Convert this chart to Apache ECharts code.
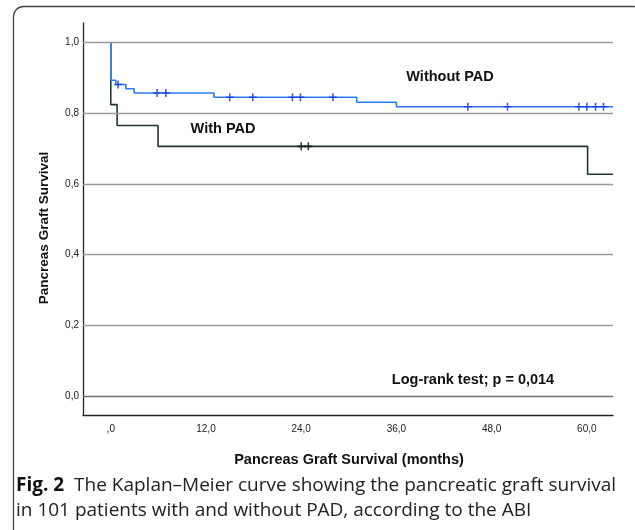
<!DOCTYPE html>
<html>
<head>
<meta charset="utf-8">
<script src="https://cdn.jsdelivr.net/npm/echarts@6/dist/echarts.min.js"></script>
<style>
html,body{margin:0;padding:0;background:#fff;}
#c{width:635px;height:530px;}
</style>
</head>
<body>
<div id="c"></div>
<script>
// ---- data ----
// Without PAD (blue) Kaplan-Meier steps
const noPadTimes = [0, 0, 0.63, 1.9, 2.94, 13.0, 31.0, 36.0, 63.3];
const noPadSurv  = [1.0, 0.893, 0.881, 0.869, 0.857, 0.845, 0.831, 0.818, 0.818];
const noPadCensorTimes = [0.92, 5.84, 6.94, 15.0, 17.9, 22.9, 23.9, 28.0, 45.0, 50.0, 59.0, 60.0, 61.1, 62.1];
const noPadCensorSurv  = [0.881, 0.857, 0.857, 0.845, 0.845, 0.845, 0.845, 0.845, 0.818, 0.818, 0.818, 0.818, 0.818, 0.818];
// With PAD (dark) Kaplan-Meier steps
const padTimes = [0, 0, 0.8, 5.96, 60.1, 63.3];
const padSurv  = [1.0, 0.824, 0.765, 0.706, 0.627, 0.627];
const padCensorTimes = [24.0, 24.9];
const padCensorSurv  = [0.706, 0.706];
// axis ticks
const xTickValues = [0, 12, 24, 36, 48, 60];
const xTickLabels = [',0', '12,0', '24,0', '36,0', '48,0', '60,0'];
const yTickValues = [0, 0.2, 0.4, 0.6, 0.8, 1.0];
const yTickLabels = ['0,0', '0,2', '0,4', '0,6', '0,8', '1,0'];

const zip = (a, b) => a.map((v, i) => [v, b[i]]);
const FONT = 'Liberation Sans, Arial, sans-serif';
const plus = 'path://M-0.2,-1H0.2V1H-0.2Z M-1,-0.2H1V0.2H-1Z';

const chart = echarts.init(document.getElementById('c'), null, {renderer: 'canvas'});
chart.setOption({
  animation: false,
  backgroundColor: '#ffffff',
  grid: {left: 83, right: 22, top: 23, bottom: 115, containLabel: false},
  xAxis: {
    type: 'value', min: -3.5, max: 63.3,
    axisLine: {show: true, onZero: false, lineStyle: {color: '#222', width: 1.3}},
    axisTick: {show: false},
    splitLine: {show: false},
    axisLabel: {
      customValues: xTickValues,
      formatter: v => xTickLabels[xTickValues.indexOf(v)] ?? '',
      color: '#222', fontFamily: FONT, fontSize: 10, margin: 9
    }
  },
  yAxis: {
    type: 'value', min: -0.054, max: 1.055,
    axisLine: {show: true, onZero: false, lineStyle: {color: '#222', width: 1.3}},
    axisTick: {show: false},
    splitLine: {show: false},
    axisLabel: {
      customValues: yTickValues,
      formatter: v => { const i = yTickValues.findIndex(t => Math.abs(t - v) < 1e-6); return i >= 0 ? yTickLabels[i] : ''; },
      color: '#222', fontFamily: FONT, fontSize: 10, margin: 4
    }
  },
  series: [
    {
      type: 'line', silent: true, symbol: 'none', data: [],
      markLine: {
        silent: true, symbol: 'none', label: {show: false},
        lineStyle: {color: '#9a9a9a', width: 1.3, type: 'solid'},
        data: yTickValues.map(v => ({yAxis: v, lineStyle: v === 0 ? {color: '#6f6f6f'} : undefined}))
      }
    },
    {
      name: 'Without PAD', type: 'line', step: 'end', symbol: 'none',
      data: zip(noPadTimes, noPadSurv),
      lineStyle: {color: '#2a7cf5', width: 1.6}, z: 3
    },
    {
      name: 'With PAD', type: 'line', step: 'end', symbol: 'none',
      data: zip(padTimes, padSurv),
      lineStyle: {color: '#1f3533', width: 1.6}, z: 2
    },
    {
      type: 'scatter', symbol: plus, symbolSize: 8,
      data: zip(noPadCensorTimes, noPadCensorSurv),
      itemStyle: {color: '#1838d8'}, z: 4
    },
    {
      type: 'scatter', symbol: plus, symbolSize: 8,
      data: zip(padCensorTimes, padCensorSurv),
      itemStyle: {color: '#111'}, z: 4
    }
  ],
  graphic: [
    {type: 'rect', shape: {x: 13.5, y: 6.5, width: 630, height: 540, r: 10},
     style: {fill: 'none', stroke: '#444', lineWidth: 1.3}, silent: true},
    {type: 'text', x: 44, y: 228, rotation: Math.PI / 2,
     style: {text: 'Pancreas Graft Survival', fontFamily: FONT, fontWeight: 'bold', fontSize: 13.5,
             fill: '#111', align: 'center', verticalAlign: 'middle'}},
    {type: 'text', x: 349, y: 460,
     style: {text: 'Pancreas Graft Survival (months)', fontFamily: FONT, fontWeight: 'bold', fontSize: 14.5,
             fill: '#111', align: 'center', verticalAlign: 'middle'}},
    {type: 'text', x: 450, y: 77,
     style: {text: 'Without PAD', fontFamily: FONT, fontWeight: 'bold', fontSize: 14.5,
             fill: '#111', align: 'center', verticalAlign: 'middle'}},
    {type: 'text', x: 223, y: 129,
     style: {text: 'With PAD', fontFamily: FONT, fontWeight: 'bold', fontSize: 14.5,
             fill: '#111', align: 'center', verticalAlign: 'middle'}},
    {type: 'text', x: 473, y: 380,
     style: {text: 'Log-rank test; p = 0,014', fontFamily: FONT, fontWeight: 'bold', fontSize: 14.5,
             fill: '#111', align: 'center', verticalAlign: 'middle'}},
    {type: 'text', x: 16, y: 486,
     style: {text: '{b|Fig. 2}  The Kaplan\u2013Meier curve showing the pancreatic graft survival',
             rich: {b: {fontFamily: 'Open Sans', fontWeight: 'bold', fontSize: 19, fill: '#111'}},
             fontFamily: 'Open Sans', fontSize: 19, fill: '#222', align: 'left', verticalAlign: 'middle'}},
    {type: 'text', x: 16, y: 511,
     style: {text: 'in 101 patients with and without PAD, according to the ABI',
             fontFamily: 'Open Sans', fontSize: 19, fill: '#222', align: 'left', verticalAlign: 'middle'}}
  ]
});
</script>
</body>
</html>
